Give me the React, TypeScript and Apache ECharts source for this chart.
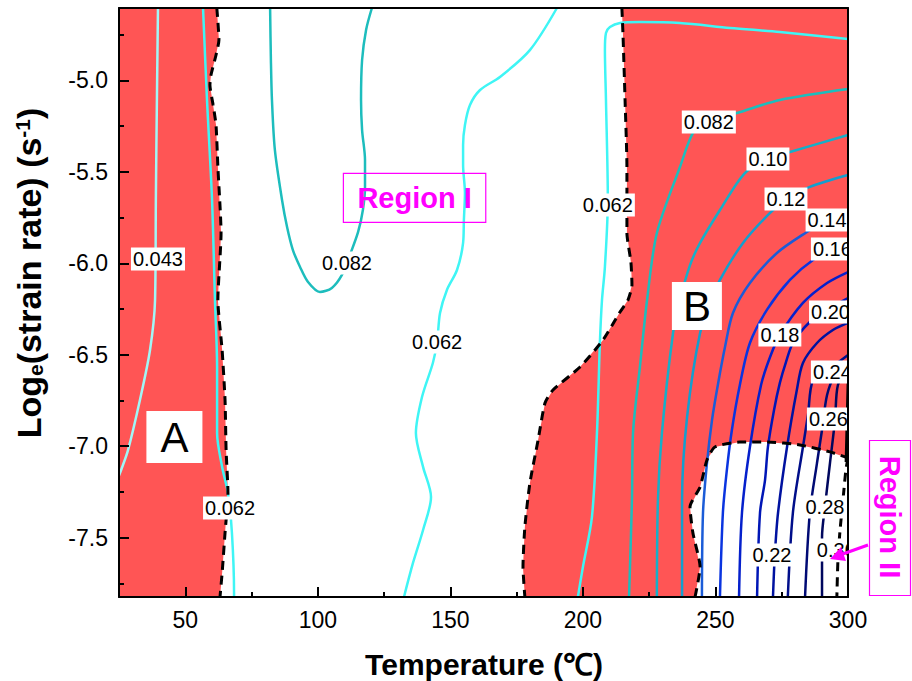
import React, { useEffect, useRef } from "react";
import * as echarts from "echarts";

const FONT = "'Liberation Sans', Arial, Helvetica, sans-serif";
const RED = "#ff5555";
const MAGENTA = "#ff00ff";

// axes
const xMin = 25;
const xMax = 300;
const yMin = -7.824;
const yMax = -4.605;
const xMajor = [50, 100, 150, 200, 250, 300];
const xMinor = [75, 125, 175, 225, 275];
const yMajor = [-7.5, -7.0, -6.5, -6.0, -5.5, -5.0];
const yMinor = [-7.75, -7.25, -6.75, -6.25, -5.75, -5.25, -4.75];

// instability boundaries [T (°C), ln(strain rate)]
const edgeA = [[61.9,-4.605],[62.7,-4.780],[61.6,-4.862],[59.7,-4.971],[59.3,-5.026],[60.5,-5.135],[61.6,-5.244],[62.3,-5.474],[63.5,-5.835],[62.3,-6.201],[63.9,-6.474],[65.0,-6.747],[65.4,-7.021],[66.1,-7.256],[65.0,-7.474],[63.9,-7.693],[63.1,-7.824]];
const edgeB = [[214.7,-4.605],[215.1,-4.742],[215.9,-5.108],[216.6,-5.474],[216.6,-5.835],[218.1,-5.993],[218.5,-6.119],[217.0,-6.201],[214.0,-6.266],[207.6,-6.419],[198.9,-6.567],[188.7,-6.693],[185.7,-6.764],[183.1,-6.966],[180.0,-7.201],[178.1,-7.441],[177.4,-7.660],[178.1,-7.824]];
const edgeII = [[242.3,-7.824],[244.2,-7.660],[241.5,-7.474],[240.4,-7.332],[244.2,-7.223],[246.8,-7.075],[249.8,-7.004],[259.2,-6.977],[269.4,-6.977],[281.9,-6.993],[293.2,-7.031],[300,-7.064]];
const edgeIIRight = [[300,-7.064],[299.2,-7.130],[298.1,-7.294],[297.0,-7.458],[296.2,-7.622],[295.8,-7.824]];

// efficiency contours
const c043 = [[39.7,-4.605],[39.3,-5.108],[38.9,-5.654],[38.6,-6.201],[36.7,-6.474],[32.9,-6.747],[28.4,-7.021],[25.8,-7.130],[25.0,-7.160]];
const c062A = [[56.7,-4.605],[58.2,-5.108],[60.1,-5.654],[61.2,-6.201],[62.0,-6.567],[62.0,-6.928],[63.9,-7.113],[66.1,-7.256],[67.6,-7.474],[68.4,-7.802],[68.4,-7.824]];
const c082I = [[82.0,-4.605],[82.3,-4.889],[82.7,-5.108],[83.8,-5.381],[86.5,-5.654],[88.4,-5.802],[90.6,-5.928],[93.3,-6.020],[96.3,-6.102],[100.8,-6.157],[105.3,-6.135],[109.1,-6.064],[112.1,-5.955],[115.2,-5.829],[117.0,-5.709],[117.8,-5.583],[117.8,-5.436],[116.7,-5.272],[116.3,-5.108],[116.7,-4.889],[118.2,-4.725],[120.4,-4.605]];
const c062I = [[190.2,-4.605],[180.0,-4.835],[168.7,-4.982],[161.2,-5.053],[157.4,-5.135],[155.5,-5.244],[154.8,-5.354],[154.8,-5.463],[155.5,-5.616],[155.1,-5.764],[154.8,-5.889],[152.5,-6.037],[148.7,-6.146],[146.1,-6.272],[145.0,-6.430],[143.4,-6.545],[139.3,-6.731],[137.0,-6.928],[139.7,-7.113],[142.7,-7.277],[139.7,-7.458],[135.9,-7.638],[132.5,-7.824]];
const c062B = [[300,-4.774],[274.3,-4.736],[255.5,-4.714],[236.6,-4.687],[221.5,-4.682],[214.0,-4.687],[210.2,-4.709],[208.7,-4.742],[208.3,-4.835],[208.7,-5.108],[209.4,-5.654],[208.3,-6.020],[207.2,-6.201],[206.4,-6.436],[205.3,-6.928],[203.4,-7.387],[200.0,-7.660],[198.1,-7.824]];
const c082B = [[217.4,-7.824],[218.5,-7.294],[218.9,-6.928],[221.5,-6.567],[224.2,-6.201],[227.9,-5.835],[236.6,-5.474],[241.5,-5.288],[246.0,-5.228],[258.1,-5.179],[274.3,-5.108],[300,-5.048]];
const c10 = [[227.9,-7.824],[228.3,-7.294],[229.8,-6.928],[234.0,-6.381],[236.6,-6.201],[240.4,-6.010],[244.2,-5.889],[251.7,-5.709],[261.1,-5.507],[269.8,-5.430],[278.1,-5.392],[300,-5.299]];
const c12 = [[237.4,-7.824],[237.4,-7.294],[239.3,-6.840],[244.2,-6.381],[248.7,-6.201],[251.7,-6.091],[260.4,-5.889],[270.6,-5.725],[277.0,-5.649],[285.6,-5.583],[300,-5.518]];
const c14 = [[244.9,-7.824],[245.3,-7.365],[246.8,-7.092],[248.7,-6.857],[250.9,-6.665],[253.6,-6.458],[256.6,-6.272],[263.0,-6.108],[273.2,-5.944],[284.5,-5.829],[292.1,-5.764],[300,-5.714]];
const c16 = [[251.7,-7.824],[252.8,-7.365],[254.3,-7.130],[256.2,-6.911],[259.2,-6.665],[263.0,-6.436],[269.4,-6.255],[278.1,-6.091],[286.8,-5.982],[295.1,-5.922],[300,-5.889]];
const c18 = [[258.9,-7.824],[260.0,-7.365],[263.0,-7.004],[267.2,-6.665],[270.6,-6.512],[274.3,-6.392],[283.0,-6.217],[292.1,-6.108],[300,-6.048]];
const c20 = [[265.7,-7.824],[266.8,-7.365],[268.7,-7.185],[269.8,-7.004],[272.1,-6.802],[274.3,-6.654],[276.6,-6.540],[279.2,-6.436],[285.6,-6.321],[293.2,-6.245],[300,-6.190]];
const c22 = [[271.7,-7.824],[272.4,-7.594],[273.6,-7.365],[277.0,-7.004],[280.7,-6.693],[283.0,-6.545],[288.3,-6.436],[294.3,-6.365],[300,-6.326]];
const c24 = [[277.3,-7.824],[279.2,-7.365],[283.0,-7.004],[284.9,-6.829],[286.8,-6.638],[292.4,-6.583],[300,-6.501]];
const c26 = [[283.8,-7.824],[285.6,-7.365],[288.3,-7.092],[290.2,-6.911],[292.1,-6.720],[295.1,-6.611],[300,-6.540]];
const c28 = [[290.2,-7.824],[290.2,-7.496],[291.3,-7.332],[293.2,-7.092],[295.1,-6.857],[296.2,-6.665],[300,-6.572]];
const c30 = [[300,-6.627],[299.6,-6.857],[299.2,-7.086]];

const contourColors = {
  c043: "#a0f7f7", c062: "#3ff5f5", c082: "#1dbdbd", c10: "#16afc9", c12: "#139fcf",
  c14: "#1b5cd8", c16: "#0a34e0", c18: "#0520cc", c20: "#0016b6", c22: "#0012a0",
  c24: "#000e8a", c26: "#000a74", c28: "#00075e", c30: "#000000",
};

// contour labels [T, ln(strain rate), text]
const contourLabels: [number, number, string][] = [
  [39.7, -5.977, "0.043"], [66.9, -7.338, "0.062"], [111.0, -5.999, "0.082"],
  [145.0, -6.430, "0.062"], [209.4, -5.682, "0.062"], [247.5, -5.228, "0.082"],
  [269.8, -5.430, "0.10"], [276.6, -5.649, "0.12"], [292.1, -5.764, "0.14"],
  [294.1, -5.922, "0.16"], [274.3, -6.392, "0.18"], [293.4, -6.266, "0.20"],
  [271.3, -7.594, "0.22"], [294.1, -6.594, "0.24"], [292.6, -6.851, "0.26"],
  [291.3, -7.332, "0.28"], [295.6, -7.567, "0.30"],
];

// region annotations
const regionNotes: [number, number, string][] = [
  [45.9, -6.950, "A"], [243.0, -6.234, "B"], [136.5, -5.643, "Region I"],
];

const regionA = [[xMin, yMax], ...edgeA, [xMin, yMin]];
const regionB = [...edgeB, ...edgeII, [xMax, yMax]];

function polygonSeries(poly: number[][]) {
  return {
    type: "custom",
    coordinateSystem: "cartesian2d",
    xAxisIndex: 0,
    yAxisIndex: 0,
    silent: true,
    z: 1,
    data: poly,
    renderItem: (params: any, api: any) => {
      if (params.dataIndex !== 0) return null;
      return {
        type: "polygon",
        shape: { points: poly.map((p) => api.coord(p)) },
        style: { fill: RED },
      };
    },
  };
}

function lineSeries(data: number[][], color: string, width = 2.5, dashed = false, z = 2) {
  return {
    type: "line",
    data,
    xAxisIndex: 0,
    yAxisIndex: 0,
    showSymbol: false,
    symbol: "none",
    smooth: dashed ? 0.2 : 0.3,
    silent: true,
    z,
    lineStyle: { color, width, type: dashed ? [9, 6] : "solid" },
  };
}

export default function App() {
  const ref = useRef<HTMLDivElement>(null);
  useEffect(() => {
    const chart = echarts.init(ref.current!, null, { renderer: "svg" });
    const tickStyle = { color: "#000", width: 2 };
    const option: any = {
      animation: false,
      backgroundColor: "#fff",
      grid: [
        { left: 119, top: 8, width: 729, height: 589 },
        { left: 119, top: 8, width: 729, height: 589 },
      ],
      xAxis: [
        {
          type: "value", gridIndex: 0, min: xMin, max: xMax, position: "bottom", z: 10,
          axisLine: { show: true, onZero: false, lineStyle: tickStyle },
          axisTick: { show: true, inside: true, length: 10, lineStyle: tickStyle, customValues: xMajor },
          axisLabel: { show: true, customValues: xMajor, color: "#000", fontSize: 23, fontFamily: FONT, margin: 11 },
          splitLine: { show: false },
        },
        {
          type: "value", gridIndex: 0, min: xMin, max: xMax, position: "top", z: 10,
          axisLine: { show: true, onZero: false, lineStyle: tickStyle },
          axisTick: { show: false }, axisLabel: { show: false }, splitLine: { show: false },
        },
        {
          type: "value", gridIndex: 1, min: xMin, max: xMax, position: "bottom", z: 10,
          axisLine: { show: false, onZero: false },
          axisTick: { show: true, inside: true, length: 5, lineStyle: tickStyle, customValues: xMinor },
          axisLabel: { show: false }, splitLine: { show: false },
        },
      ],
      yAxis: [
        {
          type: "value", gridIndex: 0, min: yMin, max: yMax, position: "left", z: 10,
          axisLine: { show: true, onZero: false, lineStyle: tickStyle },
          axisTick: { show: true, inside: true, length: 10, lineStyle: tickStyle, customValues: yMajor },
          axisLabel: {
            show: true, customValues: yMajor, color: "#000", fontSize: 23, fontFamily: FONT, margin: 11,
            formatter: (v: number) => v.toFixed(1),
          },
          splitLine: { show: false },
        },
        {
          type: "value", gridIndex: 0, min: yMin, max: yMax, position: "right", z: 10,
          axisLine: { show: true, onZero: false, lineStyle: tickStyle },
          axisTick: { show: false }, axisLabel: { show: false }, splitLine: { show: false },
        },
        {
          type: "value", gridIndex: 1, min: yMin, max: yMax, position: "left", z: 10,
          axisLine: { show: false, onZero: false },
          axisTick: { show: true, inside: true, length: 5, lineStyle: tickStyle, customValues: yMinor },
          axisLabel: { show: false }, splitLine: { show: false },
        },
      ],
      series: [
        polygonSeries(regionA),
        polygonSeries(regionB),
        lineSeries(c043, contourColors.c043),
        lineSeries(c062A, contourColors.c062),
        lineSeries(c062I, contourColors.c062),
        lineSeries(c062B, contourColors.c062),
        lineSeries(c082I, contourColors.c082),
        lineSeries(c082B, contourColors.c082),
        lineSeries(c10, contourColors.c10),
        lineSeries(c12, contourColors.c12),
        lineSeries(c14, contourColors.c14),
        lineSeries(c16, contourColors.c16),
        lineSeries(c18, contourColors.c18),
        lineSeries(c20, contourColors.c20),
        lineSeries(c22, contourColors.c22),
        lineSeries(c24, contourColors.c24),
        lineSeries(c26, contourColors.c26),
        lineSeries(c28, contourColors.c28),
        lineSeries(c30, contourColors.c30),
        lineSeries(edgeA, "#000", 3, true, 3),
        lineSeries(edgeB, "#000", 3, true, 3),
        lineSeries(edgeII, "#000", 3, true, 3),
        lineSeries(edgeIIRight, "#000", 3, true, 3),
        {
          type: "custom", coordinateSystem: "cartesian2d", xAxisIndex: 0, yAxisIndex: 0,
          silent: true, z: 4,
          data: contourLabels.map((l) => [l[0], l[1]]),
          renderItem: (params: any, api: any) => {
            const p = api.coord([api.value(0), api.value(1)]);
            return {
              type: "text", x: p[0], y: p[1],
              style: {
                text: contourLabels[params.dataIndex][2],
                font: `20px ${FONT}`, fill: "#000", backgroundColor: "#fff",
                padding: [2, 2, 1, 2],
                align: "center", verticalAlign: "middle",
                textAlign: "center", textVerticalAlign: "middle",
              },
            };
          },
        },
        {
          type: "custom", coordinateSystem: "cartesian2d", xAxisIndex: 0, yAxisIndex: 0,
          silent: true, z: 5,
          data: regionNotes.map((l) => [l[0], l[1]]),
          renderItem: (params: any, api: any) => {
            const p = api.coord([api.value(0), api.value(1)]);
            const txt = regionNotes[params.dataIndex][2];
            const isRegion = txt.length > 1;
            return {
              type: "text", x: p[0], y: p[1],
              style: isRegion
                ? {
                    text: txt, font: `bold 29px ${FONT}`, fill: MAGENTA,
                    borderColor: MAGENTA, borderWidth: 1.2, padding: [10, 14, 10, 14],
                    align: "center", verticalAlign: "middle", textAlign: "center", textVerticalAlign: "middle",
                  }
                : {
                    text: txt, font: `42px ${FONT}`, fill: "#000", backgroundColor: "#fff",
                    padding: txt === "A" ? [5, 14, 5, 14] : [3, 11, 3, 11],
                    align: "center", verticalAlign: "middle", textAlign: "center", textVerticalAlign: "middle",
                  },
            };
          },
        },
      ],
      graphic: [
        { type: "rect", z: 100, silent: true, shape: { x: 849, y: 0, width: 63, height: 599 }, style: { fill: "#fff" } },
        {
          type: "text", z: 100, x: 484, y: 664,
          style: {
            text: "Temperature (℃)", font: `bold 30px ${FONT}`, fill: "#000",
            align: "center", verticalAlign: "middle", textAlign: "center", textVerticalAlign: "middle",
          },
        },
        {
          type: "text", z: 100, x: 29, y: 273, rotation: Math.PI / 2,
          style: {
            text: "Log{sub|e}(strain rate) (s{sup|-1})",
            font: `bold 34px ${FONT}`, fill: "#000",
            align: "center", verticalAlign: "middle", textAlign: "center", textVerticalAlign: "middle",
            rich: {
              sub: { font: `bold 21px ${FONT}`, fill: "#000", verticalAlign: "bottom" },
              sup: { font: `bold 21px ${FONT}`, fill: "#000", verticalAlign: "top" },
            },
          },
        },
        {
          type: "rect", z: 101, silent: true,
          shape: { x: 869.5, y: 440.5, width: 41, height: 155 },
          style: { fill: "none", stroke: MAGENTA, lineWidth: 1.2 },
        },
        {
          type: "text", z: 101, x: 890, y: 517, rotation: -Math.PI / 2,
          style: {
            text: "Region II", font: `bold 29px ${FONT}`, fill: MAGENTA,
            align: "center", verticalAlign: "middle", textAlign: "center", textVerticalAlign: "middle",
          },
        },
        {
          type: "line", z: 102, silent: true,
          shape: { x1: 868, y1: 545, x2: 840, y2: 555 },
          style: { stroke: MAGENTA, lineWidth: 3 },
        },
        {
          type: "polygon", z: 102, silent: true,
          shape: { points: [[830, 559], [841, 547], [846, 561]] },
          style: { fill: MAGENTA },
        },
      ],
    };
    chart.setOption(option);
    return () => chart.dispose();
  }, []);
  return (
    <div
      ref={ref}
      style={{ position: "fixed", left: 0, top: 0, width: 912, height: 681, background: "#fff" }}
    />
  );
}
